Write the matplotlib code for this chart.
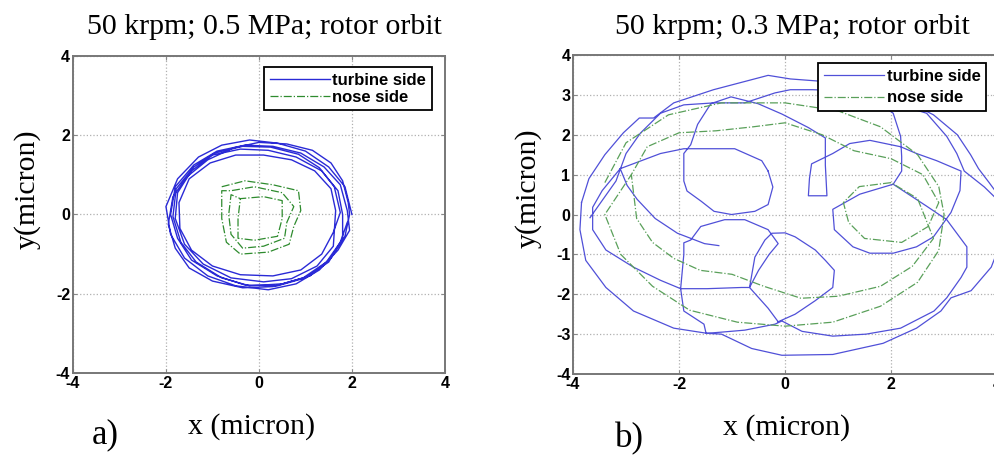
import numpy as np
import matplotlib
matplotlib.use('Agg')
import matplotlib.pyplot as plt

nan = np.nan
plt.rcParams['axes.unicode_minus'] = False

# (a) 50 krpm, 0.5 MPa -- turbine side orbit, several revolutions
left_turbine_x = [2.0, 1.85, 1.5, 1.0, 0.4, -0.2, -0.8, -1.3, -1.75, -2.0, -1.9, -1.6, -1.1, -0.5, 0.2, 0.8, 1.3, 1.7, 1.95,
                  1.9, 1.75, 1.4, 0.9, 0.3, -0.3, -0.9, -1.4, -1.8, -1.9, -1.75, -1.45, -0.9, -0.3, 0.4, 1.0, 1.5, 1.8,
                  1.8, 1.7, 1.35, 0.8, 0.2, -0.4, -1.0, -1.45, -1.75, -1.8, -1.6, -1.2, -0.6, 0.1, 0.7, 1.25, 1.6,
                  1.65, 1.55, 1.2, 0.7, 0.1, -0.5, -1.05, -1.5, -1.72, -1.7, -1.45, -1.0, -0.4, 0.3, 0.9, 1.35, 1.6,
                  1.75, 1.62, 1.3, 0.85, 0.25, -0.35, -0.95, -1.4, -1.78, -1.85, -1.68, -1.35, -0.8, -0.2, 0.5, 1.1, 1.55, 1.85, 1.95,
                  1.92, 1.8, 1.55, 1.15, 0.6, 0.0, -0.55, -1.1, -1.55, -1.85, -1.95, -1.8, -1.5, -1.0, -0.35, 0.3, 0.95, 1.45, 1.75, 1.9]
left_turbine_y = [0.0, 0.7, 1.2, 1.6, 1.8, 1.88, 1.75, 1.45, 0.9, 0.2, -0.5, -1.1, -1.55, -1.8, -1.9, -1.75, -1.4, -0.9, -0.4,
                  0.1, 0.75, 1.2, 1.55, 1.72, 1.75, 1.6, 1.25, 0.7, 0.0, -0.6, -1.15, -1.55, -1.78, -1.8, -1.6, -1.2, -0.6,
                  0.0, 0.6, 1.1, 1.45, 1.62, 1.65, 1.5, 1.1, 0.55, -0.1, -0.75, -1.25, -1.6, -1.7, -1.62, -1.3, -0.8,
                  0.1, 0.65, 1.1, 1.38, 1.5, 1.5, 1.3, 0.9, 0.3, -0.35, -0.9, -1.3, -1.52, -1.55, -1.4, -1.0, -0.45,
                  0.05, 0.7, 1.18, 1.52, 1.7, 1.72, 1.55, 1.2, 0.65, -0.05, -0.7, -1.2, -1.6, -1.8, -1.75, -1.55, -1.1, -0.55, 0.0,
                  0.3, 0.85, 1.3, 1.62, 1.78, 1.82, 1.68, 1.38, 0.95, 0.45, -0.25, -0.85, -1.35, -1.68, -1.85, -1.82, -1.6, -1.2, -0.7, -0.2]

# (a) nose side orbit
left_nose_x = [-0.8, -0.3, 0.3, 0.85, 0.9, 0.75, 0.65, 0.2, -0.4, -0.7, -0.8, -0.8,
               -0.6, -0.1, 0.5, 0.75, 0.6, 0.55, 0.1, -0.35, -0.6, -0.65, -0.6,
               -0.4, 0.1, 0.5, 0.5, 0.4, -0.1, -0.45, -0.45, -0.4]
left_nose_y = [0.7, 0.85, 0.75, 0.6, 0.1, -0.3, -0.75, -0.95, -1.0, -0.7, -0.1, 0.6,
               0.6, 0.7, 0.55, 0.2, -0.2, -0.6, -0.8, -0.85, -0.5, 0.0, 0.5,
               0.4, 0.45, 0.35, -0.1, -0.55, -0.65, -0.6, -0.1, 0.4]

# (b) 50 krpm, 0.3 MPa -- turbine side orbit (nan = pen up)
right_turbine_x = [-3.84, -3.70, -3.40, -3.05, -2.75, -2.48, -2.10, -1.35, -0.32, 0.10, 0.60, 1.30, 2.20, 2.80, 3.25, 3.50, 3.65, 3.85, 4.10,
                   4.10, 3.89, 3.51, 3.13, 2.94, 2.48, 1.85, 0.90, -0.06, -0.63, -1.20, -1.47, -2.10, -2.86, -3.38, -3.76, -3.87, -3.84, nan,
                   -3.68, -3.19, -3.00, -2.73, -2.35, -1.91, -1.34, -0.76, -0.19, 0.10, 0.52, 1.20, 1.90, 2.67, 3.05, 3.24, 3.38, 3.76, 4.10, nan,
                   2.04, 2.67, 3.05, 3.43, 3.43, 3.32, 3.05, 2.81, 2.18, 1.53, 0.90, 0.32, -0.06, -0.19, -0.76, -1.20, -1.49, -1.53, -1.91, -1.97,
                   -1.91, -1.91, -1.78, -1.59, -1.14, -0.76, -0.32, -0.13, -0.30, -0.50, -0.67, -0.32, -0.13, nan,
                   -0.32, -0.44, -0.95, -1.91, -2.35, -3.11, -3.45, -3.63, -3.63, -3.38, -2.86, -2.35, -1.97, -1.47, -0.82, -0.67, -0.57, -0.38,
                   -0.25, 0.00, 0.19, 0.57, 0.76, 0.93, 0.90, 0.57, 0.19, -0.13, nan,
                   -3.11, -2.98, -2.79, -2.45, -2.03, -1.52, -1.25, nan,
                   -0.32, -0.23, -0.32, -0.57, -1.01, -1.34, -1.58, -1.85, -1.91, -1.91, -1.78, -1.65, -1.40, -1.02, -0.51, -0.06, 0.44, 0.76,
                   0.76, 0.79, 0.44, 0.46, 0.50, 0.90, 1.22, 1.60, 2.18, 2.48, 2.86, 3.32, 3.30, 3.13, 2.80, 2.48, 2.04, 1.60, 1.28, 0.93,
                   0.90, 1.41, 2.04, 2.20, 2.20, 2.18, 2.04, 1.60]
right_turbine_y = [0.30, 0.90, 1.50, 2.05, 2.42, 2.42, 2.80, 3.13, 3.49, 3.40, 3.35, 3.20, 2.90, 2.50, 2.00, 1.50, 1.15, 0.80, 0.35,
                   -0.60, -1.32, -1.91, -2.09, -2.42, -2.85, -3.23, -3.51, -3.53, -3.36, -3.00, -2.98, -2.85, -2.42, -1.83, -1.15, -0.38, 0.30, nan,
                   -0.08, 0.84, 1.53, 2.04, 2.54, 2.75, 2.80, 2.80, 3.05, 3.13, 3.13, 3.10, 2.85, 2.54, 1.96, 1.53, 1.09, 0.69, 0.25, nan,
                   0.76, 0.21, -0.13, -0.81, -1.32, -1.58, -2.09, -2.42, -2.85, -3.00, -3.05, -2.93, -2.67, -2.75, -2.90, -2.95, -2.98, -2.75, -2.42, -1.86,
                   -1.00, -0.71, -0.64, -0.30, -0.13, -0.13, -0.38, -0.73, -1.00, -1.40, -1.83, -2.35, -2.69, nan,
                   1.09, 1.35, 1.65, 1.65, 1.53, 1.15, 0.60, 0.18, -0.38, -0.89, -1.32, -1.65, -1.86, -1.86, -1.83, -1.83, -1.07, -0.64,
                   -0.47, -0.46, -0.56, -0.89, -1.15, -1.40, -1.83, -2.16, -2.50, -2.69, nan,
                   1.15, 0.73, 0.38, -0.10, -0.47, -0.73, -0.78, nan,
                   1.09, 0.69, 0.25, 0.08, 0.00, 0.08, 0.33, 0.59, 0.84, 1.53, 1.75, 2.26, 2.78, 2.95, 2.78, 2.52, 2.18, 1.92,
                   1.24, 0.47, 0.47, 0.90, 1.27, 1.53, 1.78, 1.86, 1.70, 1.53, 1.35, 1.09, 0.60, 0.05, -0.56, -0.81, -0.97, -0.97, -0.81, -0.38,
                   0.13, 0.51, 0.76, 1.09, 1.45, 1.96, 2.54, 2.95]

# (b) nose side orbit
right_nose_x = [-3.4, -3.0, -2.2, -1.2, 0.0, 1.0, 1.8, 2.5, 2.9, 3.0, 2.9, 2.5, 1.8, 0.9, 0.0, -0.9, -1.8, -2.5, -3.1, -3.4,
                -2.9, -2.6, -2.0, -1.3, -0.6, 0.0, 0.7, 1.3, 2.0, 2.6, 2.9, 2.7, 2.2, 1.5, 1.2, 1.1, 1.4, 2.0, 2.5, 2.8,
                2.4, 1.8, 1.0, 0.3, -0.4, -1.0, -1.6, -2.1, -2.5, -2.8, -2.9]
right_nose_y = [0.8, 1.8, 2.5, 2.8, 2.8, 2.6, 2.2, 1.5, 0.7, 0.0, -0.9, -1.7, -2.3, -2.7, -2.8, -2.7, -2.4, -1.8, -1.0, 0.0,
                1.0, 1.7, 2.05, 2.1, 2.2, 2.3, 2.0, 1.6, 1.4, 1.0, 0.3, -0.3, -0.7, -0.6, -0.2, 0.3, 0.7, 0.8, 0.4, -0.6,
                -1.3, -1.8, -2.05, -2.1, -1.8, -1.5, -1.4, -1.1, -0.7, -0.1, 1.0]

titles = ['50 krpm; 0.5 MPa; rotor orbit', '50 krpm; 0.3 MPa; rotor orbit']
panel_tags = ['a)', 'b)']
left_yticks = [-4, -2, 0, 2, 4]
right_yticks = [-4, -3, -2, -1, 0, 1, 2, 3, 4]
xticks = [-4, -2, 0, 2, 4]

serif = 'Liberation Serif'
sans = 'Liberation Sans'

fig = plt.figure(figsize=(9.94, 4.57), dpi=100)
ax1 = fig.add_axes([0.0734, 0.1838, 0.3742, 0.6937])
ax2 = fig.add_axes([0.5765, 0.1816, 0.4266, 0.6980])


def style_axes(ax, yticks):
    ax.set_xlim(-4, 4)
    ax.set_ylim(-4, 4)
    ax.set_xticks(xticks)
    ax.set_yticks(yticks)
    ax.grid(True, linestyle=':', color='#b0b0b0', linewidth=0.9)
    ax.tick_params(direction='in', length=3, width=0.8, color='#888888',
                   top=True, right=True, pad=2)
    for lab in ax.get_xticklabels() + ax.get_yticklabels():
        lab.set_fontfamily(sans)
        lab.set_fontweight('bold')
        lab.set_fontsize(11.5)
    for sp in ax.spines.values():
        sp.set_color('#777777')
        sp.set_linewidth(1.4)


ax1.plot(left_turbine_x, left_turbine_y, '-', color='#2a2ad6', lw=1.0, label='turbine side')
ax1.plot(left_nose_x, left_nose_y, '-.', color='#2e8b2e', lw=0.9, label='nose side')
style_axes(ax1, left_yticks)

ax2.plot(right_turbine_x, right_turbine_y, '-', color='#5050d8', lw=0.9, label='turbine side')
ax2.plot(right_nose_x, right_nose_y, '-.', color='#5aa05a', lw=0.9, label='nose side')
style_axes(ax2, right_yticks)

leg_font = {'family': sans, 'weight': 'bold', 'size': 12}
for ax, anchor, spacing in [(ax1, (0.965, 0.966), 0.12), (ax2, (0.975, 0.975), 0.4)]:
    leg = ax.legend(loc='upper right', bbox_to_anchor=anchor, prop=leg_font,
                    fancybox=False, framealpha=1, edgecolor='black',
                    handlelength=3.6, handletextpad=0.15, borderpad=0.35,
                    labelspacing=spacing, borderaxespad=0)
    leg.get_frame().set_linewidth(1.3)

# titles, axis labels and panel tags
fig.text(0.266, 0.941, titles[0], ha='center', va='center', family=serif, fontsize=21.5)
fig.text(0.797, 0.941, titles[1], ha='center', va='center', family=serif, fontsize=21.5)
fig.text(0.253, 0.066, 'x (micron)', ha='center', va='center', family=serif, fontsize=21.5)
fig.text(0.791, 0.064, 'x (micron)', ha='center', va='center', family=serif, fontsize=21.5)
fig.text(0.027, 0.586, 'y(micron)', ha='center', va='center', rotation=90, family=serif, fontsize=21.5)
fig.text(0.531, 0.589, 'y(micron)', ha='center', va='center', rotation=90, family=serif, fontsize=21.5)
fig.text(0.106, 0.048, panel_tags[0], ha='center', va='center', family=serif, fontsize=25)
fig.text(0.633, 0.039, panel_tags[1], ha='center', va='center', family=serif, fontsize=25)

fig.savefig('out.png', dpi=100)
